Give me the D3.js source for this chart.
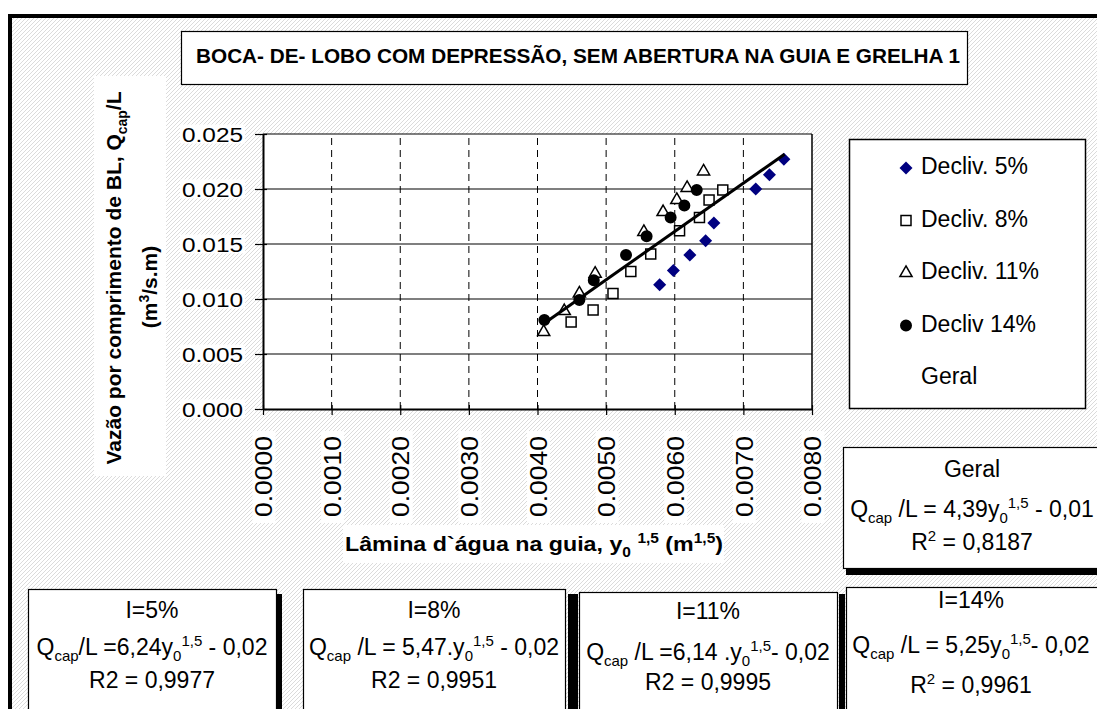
<!DOCTYPE html>
<html>
<head>
<meta charset="utf-8">
<script src="https://cdn.jsdelivr.net/npm/d3@7"></script>
<style>
  body { margin: 0; background: #fff; }
  text { font-family: Arial, "Liberation Sans", sans-serif; }
</style>
</head>
<body>
<svg id="chart"></svg>
<script>
// values
const xTicks = [0, 0.001, 0.002, 0.003, 0.004, 0.005, 0.006, 0.007, 0.008];
const yTicks = [0, 0.005, 0.010, 0.015, 0.020, 0.025];

const s5x  = [0.00578, 0.00598, 0.00622, 0.00645, 0.00657, 0.00718, 0.00738, 0.00759];
const s5y  = [0.0113, 0.0126, 0.0140, 0.0153, 0.0169, 0.0200, 0.0213, 0.0227];
const s8x  = [0.00449, 0.00481, 0.00510, 0.00536, 0.00565, 0.00607, 0.00636, 0.00650, 0.00670];
const s8y  = [0.0079, 0.0090, 0.0105, 0.0125, 0.0141, 0.0162, 0.0174, 0.0190, 0.0199];
const s11x = [0.00409, 0.00439, 0.00461, 0.00484, 0.00555, 0.00583, 0.00603, 0.00618, 0.00642];
const s11y = [0.0070, 0.0089, 0.0105, 0.0123, 0.0161, 0.0179, 0.0190, 0.0201, 0.0216];
const s14x = [0.00410, 0.00461, 0.00482, 0.00529, 0.00559, 0.00594, 0.00614, 0.00632];
const s14y = [0.0081, 0.0099, 0.0117, 0.0140, 0.0157, 0.0174, 0.0185, 0.0199];

// overall fit line (Geral)
const geralCoef = [4.39, -0.0102];
const geralRange = [0.0041, 0.0076];

const legendLabels = ['Decliv. 5%', 'Decliv. 8%', 'Decliv. 11%', 'Decliv 14%', 'Geral'];

const titleText = 'BOCA- DE- LOBO COM DEPRESSÃO, SEM ABERTURA NA GUIA E GRELHA 1';

// equation boxes: [line1, line2 segments, line3 segments]
const boxGeral = ['Geral', [['', 'Q'], ['sub', 'cap'], ['', ' /L = 4,39y'], ['sub', '0'], ['sup', '1,5'], ['', ' - 0,01']], [['', 'R'], ['sup', '2'], ['', ' = 0,8187']]];
const box5  = ['I=5%',  [['', 'Q'], ['sub', 'cap'], ['', '/L =6,24y'], ['sub', '0'], ['sup', '1,5'], ['', ' - 0,02']], [['', 'R2 = 0,9977']]];
const box8  = ['I=8%',  [['', 'Q'], ['sub', 'cap'], ['', ' /L = 5,47.y'], ['sub', '0'], ['sup', '1,5'], ['', ' - 0,02']], [['', 'R2 = 0,9951']]];
const box11 = ['I=11%', [['', 'Q'], ['sub', 'cap'], ['', ' /L =6,14 .y'], ['sub', '0'], ['sup', '1,5'], ['', '- 0,02']], [['', 'R2 = 0,9995']]];
const box14 = ['I=14%', [['', 'Q'], ['sub', 'cap'], ['', ' /L = 5,25y'], ['sub', '0'], ['sup', '1,5'], ['', '- 0,02']], [['', 'R'], ['sup', '2'], ['', ' = 0,9961']]];

const W = 1097, H = 709;
const svg = d3.select('#chart').attr('width', W).attr('height', H);

// hatched background
const defs = svg.append('defs');
const pat = defs.append('pattern').attr('id', 'hatch')
    .attr('width', 4).attr('height', 4).attr('patternUnits', 'userSpaceOnUse');
pat.append('rect').attr('width', 4).attr('height', 4).attr('fill', '#fff');
pat.append('path').attr('d', 'M0,4 L4,0 M-1,1 L1,-1 M3,5 L5,3')
    .attr('stroke', '#d2d2d2').attr('stroke-width', 0.8);

svg.append('rect').attr('x', 10).attr('y', 16).attr('width', 1100).attr('height', 710)
    .attr('fill', 'url(#hatch)').attr('stroke', '#000').attr('stroke-width', 4);

// helper for text with sub/superscripts
function rich(sel, segs, size, small) {
    let shift = 0;
    segs.forEach(([kind, t]) => {
        const target = kind === 'sub' ? size * 0.28 : kind === 'sup' ? -size * 0.4 : 0;
        sel.append('tspan').attr('dy', target - shift)
            .attr('font-size', kind ? small : size).text(t);
        shift = target;
    });
}

// scales
const x = d3.scaleLinear().domain([0, 0.008]).range([263, 812]);
const y = d3.scaleLinear().domain([0, 0.025]).range([409, 134]);

// plot area
svg.append('rect').attr('x', x(0)).attr('y', y(0.025))
    .attr('width', x(0.008) - x(0)).attr('height', y(0) - y(0.025)).attr('fill', '#fff');

// gridlines
svg.append('g').selectAll('line').data(yTicks.slice(1)).join('line')
    .attr('x1', x(0)).attr('x2', x(0.008)).attr('y1', d => y(d)).attr('y2', d => y(d))
    .attr('stroke', '#000').attr('stroke-width', 1.2);
svg.append('g').selectAll('line').data(xTicks.slice(1, -1)).join('line')
    .attr('x1', d => x(d)).attr('x2', d => x(d)).attr('y1', y(0)).attr('y2', y(0.025))
    .attr('stroke', '#000').attr('stroke-width', 1).attr('stroke-dasharray', '7,5');
svg.append('line').attr('x1', x(0.008)).attr('x2', x(0.008)).attr('y1', y(0.025)).attr('y2', y(0))
    .attr('stroke', '#000').attr('stroke-width', 1.5);

// y axis
const yAxis = svg.append('g').attr('transform', `translate(${x(0)},0)`)
    .call(d3.axisLeft(y).tickValues(yTicks).tickFormat(d3.format('.3f')).tickSizeInner(8).tickSizeOuter(0));
yAxis.select('.domain').attr('stroke-width', 2);
yAxis.selectAll('.tick line').attr('x1', 4).attr('stroke-width', 1.2);
yAxis.selectAll('.tick').insert('rect', 'text')
    .attr('x', -83).attr('y', -10).attr('width', 65).attr('height', 19).attr('fill', '#fff');
yAxis.selectAll('.tick text')
    .attr('x', -20).attr('dy', '0.36em').attr('font-size', 20).attr('fill', '#000')
    .attr('textLength', 61).attr('lengthAdjust', 'spacingAndGlyphs')
    .style('font-family', 'Arial, "Liberation Sans", sans-serif');

// x axis
const xAxis = svg.append('g').attr('transform', `translate(0,${y(0)})`)
    .call(d3.axisBottom(x).tickValues(xTicks).tickFormat(d3.format('.4f')).tickSizeInner(6).tickSizeOuter(0));
xAxis.select('.domain').attr('stroke-width', 2);
xAxis.selectAll('.tick line').attr('y1', -4).attr('stroke-width', 1.2);
xAxis.selectAll('.tick').insert('rect', 'text')
    .attr('x', -11).attr('y', 22).attr('width', 23).attr('height', 92).attr('fill', '#fff');
xAxis.selectAll('.tick text')
    .attr('transform', 'rotate(-90)').attr('text-anchor', 'end')
    .attr('x', -27).attr('y', 0).attr('dy', '0.36em').attr('font-size', 24).attr('fill', '#000')
    .attr('textLength', 81).attr('lengthAdjust', 'spacingAndGlyphs')
    .style('font-family', 'Arial, "Liberation Sans", sans-serif');

// markers
const zip = (xs, ys) => xs.map((v, i) => [v, ys[i]]);
const markers = [
    {pts: zip(s5x, s5y), sym: d3.symbolSquare, size: 85, rot: 45, fill: '#000080', stroke: 'none'},
    {pts: zip(s8x, s8y), sym: d3.symbolSquare, size: 100, rot: 0, fill: '#fff', stroke: '#000'},
    {pts: zip(s11x, s11y), sym: d3.symbolTriangle, size: 64, rot: 0, fill: '#fff', stroke: '#000'},
    {pts: zip(s14x, s14y), sym: d3.symbolCircle, size: 113, rot: 0, fill: '#000', stroke: 'none'}
];
markers.forEach(m => {
    svg.append('g').selectAll('path').data(m.pts).join('path')
        .attr('d', d3.symbol().type(m.sym).size(m.size))
        .attr('transform', d => `translate(${x(d[0])},${y(d[1])}) rotate(${m.rot})`)
        .attr('fill', m.fill).attr('stroke', m.stroke).attr('stroke-width', 1.5);
});

// geral fit line
const line = d3.line().x(d => x(d)).y(d => y(geralCoef[0] * d + geralCoef[1]));
svg.append('path').datum(geralRange).attr('d', line)
    .attr('fill', 'none').attr('stroke', '#000').attr('stroke-width', 3);

// title box
svg.append('rect').attr('x', 181.5).attr('y', 31.5).attr('width', 786).attr('height', 53)
    .attr('fill', '#fff').attr('stroke', '#000').attr('stroke-width', 1.2);
svg.append('text').attr('x', 196).attr('y', 63).attr('font-size', 21).attr('font-weight', 'bold')
    .attr('textLength', 764).attr('lengthAdjust', 'spacingAndGlyphs').text(titleText);

// y axis title
svg.append('rect').attr('x', 94).attr('y', 76).attr('width', 72).attr('height', 400).attr('fill', '#fff');
const yt1 = svg.append('text').attr('transform', 'translate(121,278) rotate(-90)')
    .attr('text-anchor', 'middle').attr('font-size', 21).attr('font-weight', 'bold');
rich(yt1, [['', 'Vazão por comprimento de BL, Q'], ['sub', 'cap'], ['', '/L']], 21, 14);
const yt2 = svg.append('text').attr('transform', 'translate(157,287) rotate(-90)')
    .attr('text-anchor', 'middle').attr('font-size', 21).attr('font-weight', 'bold');
rich(yt2, [['', '(m'], ['sup', '3'], ['', '/s.m)']], 21, 14);

// x axis title
svg.append('rect').attr('x', 343).attr('y', 525).attr('width', 381).attr('height', 38).attr('fill', '#fff');
const xt = svg.append('text').attr('x', 345).attr('y', 551).attr('font-size', 21).attr('font-weight', 'bold')
    .attr('textLength', 378).attr('lengthAdjust', 'spacingAndGlyphs');
rich(xt, [['', 'Lâmina d`água na guia,  y'], ['sub', '0'], ['', ' '], ['sup', '1,5'], ['', ' (m'], ['sup', '1,5'], ['', ')']], 21, 14);

// legend
svg.append('rect').attr('x', 849.5).attr('y', 139.5).attr('width', 236).attr('height', 269)
    .attr('fill', '#fff').attr('stroke', '#000').attr('stroke-width', 1.5);
const legY = d3.scalePoint().domain(legendLabels).range([168, 378]);
legendLabels.forEach((lab, i) => {
    const m = markers[i];
    if (m) {
        svg.append('path').attr('d', d3.symbol().type(m.sym).size(m.size))
            .attr('transform', `translate(906,${legY(lab)}) rotate(${m.rot})`)
            .attr('fill', m.fill).attr('stroke', m.stroke).attr('stroke-width', 1.5);
    }
    svg.append('text').attr('x', 921).attr('y', legY(lab) + 6).attr('font-size', 23).text(lab);
});

// equation boxes
function eqBox(b, x0, y0, w, h, cx, baselines) {
    svg.append('rect').attr('x', x0 + 0.5).attr('y', y0 + 0.5).attr('width', w).attr('height', h)
        .attr('fill', '#fff').attr('stroke', '#000').attr('stroke-width', 1.2);
    svg.append('text').attr('x', cx).attr('y', baselines[0]).attr('text-anchor', 'middle')
        .attr('font-size', 23).text(b[0]);
    const t2 = svg.append('text').attr('x', cx).attr('y', baselines[1]).attr('text-anchor', 'middle').attr('font-size', 23);
    rich(t2, b[1], 23, 15);
    const t3 = svg.append('text').attr('x', cx).attr('y', baselines[2]).attr('text-anchor', 'middle').attr('font-size', 23);
    rich(t3, b[2], 23, 15);
}

// shadows
svg.append('rect').attr('x', 846).attr('y', 568).attr('width', 260).attr('height', 7).attr('fill', '#000');
svg.append('rect').attr('x', 276).attr('y', 594).attr('width', 6).attr('height', 120).attr('fill', '#000');
svg.append('rect').attr('x', 568).attr('y', 594).attr('width', 10).attr('height', 120).attr('fill', '#000');
svg.append('rect').attr('x', 839).attr('y', 594).attr('width', 6).attr('height', 120).attr('fill', '#000');

eqBox(boxGeral, 843, 447, 260, 121, 972, [477, 517, 550]);
eqBox(box5, 28, 589, 248, 130, 152, [618, 655, 688]);
eqBox(box8, 303, 589, 262, 130, 434, [618, 655, 688]);
eqBox(box11, 579, 592, 258, 130, 708, [619, 660, 690]);
eqBox(box14, 846, 587, 252, 130, 971, [608, 653, 693]);
</script>
</body>
</html>
